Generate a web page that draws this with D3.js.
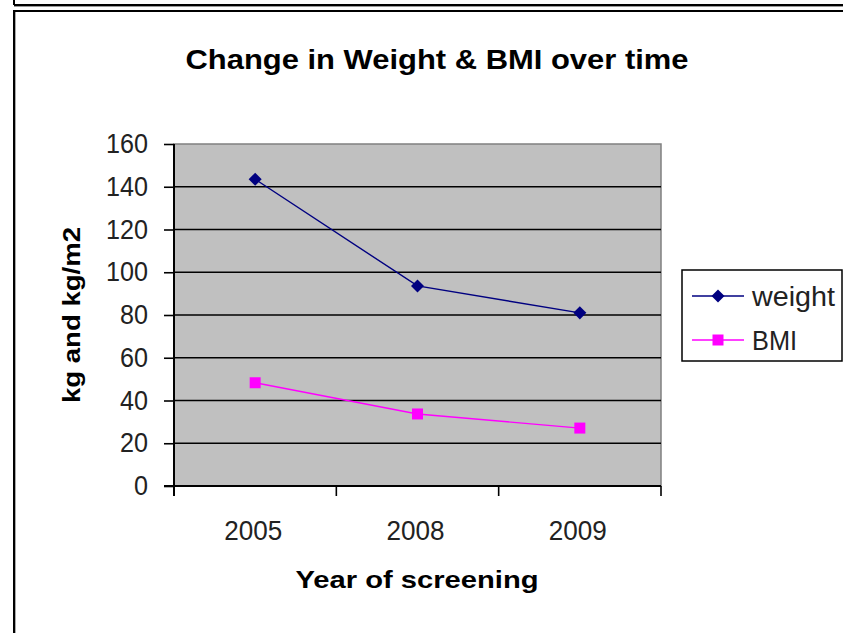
<!DOCTYPE html>
<html>
<head>
<meta charset="utf-8">
<script src="https://cdn.jsdelivr.net/npm/d3@7"></script>
<style>
  body { margin: 0; background: #fff; }
  svg { display: block; font-family: "Liberation Sans", Arial, sans-serif; }
</style>
</head>
<body>
<svg id="chart" width="843" height="633"></svg>
<script>
// chart data
const years = ["2005", "2008", "2009"];
const weight = [143.5, 93.6, 81];
const bmi = [48.3, 33.7, 27.1];
const yTicks = [0, 20, 40, 60, 80, 100, 120, 140, 160];
const seriesNames = ["weight", "BMI"];

const svg = d3.select("#chart");

// window frames (screenshot of a spreadsheet)
svg.append("line").attr("x1", 14).attr("y1", 0).attr("x2", 14).attr("y2", 5)
  .attr("stroke", "#000").attr("stroke-width", 2);
svg.append("line").attr("x1", 14).attr("y1", 5).attr("x2", 843).attr("y2", 5)
  .attr("stroke", "#000").attr("stroke-width", 2);
svg.append("line").attr("x1", 14).attr("y1", 6.5).attr("x2", 843).attr("y2", 6.5)
  .attr("stroke", "#999").attr("stroke-width", 1);
svg.append("line").attr("x1", 13).attr("y1", 11).attr("x2", 843).attr("y2", 11)
  .attr("stroke", "#000").attr("stroke-width", 2);
svg.append("line").attr("x1", 14).attr("y1", 10).attr("x2", 14).attr("y2", 633)
  .attr("stroke", "#000").attr("stroke-width", 2);
svg.append("line").attr("x1", 15.5).attr("y1", 12).attr("x2", 15.5).attr("y2", 633)
  .attr("stroke", "#aaa").attr("stroke-width", 1);

const plotLeft = 174, plotRight = 661, plotTop = 144, plotBottom = 486;

const xScale = d3.scaleBand().domain(years).range([plotLeft, plotRight]).padding(0);
const yScale = d3.scaleLinear().domain([0, 160]).range([plotBottom, plotTop]);

// plot area
svg.append("rect")
  .attr("x", plotLeft).attr("y", plotTop)
  .attr("width", plotRight - plotLeft).attr("height", plotBottom - plotTop)
  .attr("fill", "#c0c0c0")
  .attr("stroke", "#808080").attr("stroke-width", 1.5);

// gridlines
svg.append("g").selectAll("line")
  .data(yTicks.filter(d => d > 0 && d < 160))
  .join("line")
  .attr("x1", plotLeft).attr("x2", plotRight)
  .attr("y1", d => yScale(d)).attr("y2", d => yScale(d))
  .attr("stroke", "#000").attr("stroke-width", 1.6);

// y axis
const yAxis = svg.append("g")
  .attr("transform", `translate(${plotLeft},0)`)
  .call(d3.axisLeft(yScale).tickValues(yTicks).tickSize(10).tickPadding(16));
yAxis.select(".domain").attr("stroke", "#000").attr("stroke-width", 2).attr("d", `M0,${plotTop}V${plotBottom + 10}`);
yAxis.selectAll(".tick line").attr("stroke-width", 1.6);
yAxis.selectAll(".tick text")
  .attr("font-size", 27).attr("fill", "#222")
  .attr("font-family", "Liberation Sans, Arial, sans-serif")
  .attr("textLength", d => String(d).length * 14).attr("lengthAdjust", "spacingAndGlyphs");

// x axis
svg.append("line").attr("x1", plotLeft - 10).attr("x2", plotRight)
  .attr("y1", plotBottom).attr("y2", plotBottom)
  .attr("stroke", "#000").attr("stroke-width", 2);
const edges = years.map(d => xScale(d)).concat([xScale.range()[1]]);
svg.append("g").selectAll("line")
  .data(edges)
  .join("line")
  .attr("x1", d => d).attr("x2", d => d)
  .attr("y1", plotBottom).attr("y2", plotBottom + 10)
  .attr("stroke", "#000").attr("stroke-width", 1.6);
svg.append("g").selectAll("text")
  .data(years)
  .join("text")
  .attr("x", d => xScale(d) + xScale.bandwidth() / 2 - 2)
  .attr("y", 540)
  .attr("text-anchor", "middle")
  .attr("font-size", 27).attr("fill", "#222")
  .attr("textLength", 58).attr("lengthAdjust", "spacingAndGlyphs")
  .text(d => d);

// lines + markers
const line = d3.line()
  .x((d, i) => xScale(years[i]) + xScale.bandwidth() / 2)
  .y(d => yScale(d));

svg.append("path").datum(weight)
  .attr("d", line).attr("fill", "none")
  .attr("stroke", "#000080").attr("stroke-width", 1.4);
svg.append("path").datum(bmi)
  .attr("d", line).attr("fill", "none")
  .attr("stroke", "#ff00ff").attr("stroke-width", 1.4);

const diamond = d3.symbol(d3.symbolSquare, 85);
const square = d3.symbol(d3.symbolSquare, 121);

svg.append("g").selectAll("path")
  .data(weight)
  .join("path")
  .attr("d", diamond)
  .attr("transform", (d, i) => `translate(${xScale(years[i]) + xScale.bandwidth() / 2},${yScale(d)}) rotate(45)`)
  .attr("fill", "#000080");
svg.append("g").selectAll("path")
  .data(bmi)
  .join("path")
  .attr("d", square)
  .attr("transform", (d, i) => `translate(${xScale(years[i]) + xScale.bandwidth() / 2},${yScale(d)})`)
  .attr("fill", "#ff00ff");

// titles
svg.append("text")
  .attr("x", 437).attr("y", 69)
  .attr("text-anchor", "middle")
  .attr("font-size", 28).attr("font-weight", "bold")
  .attr("textLength", 503).attr("lengthAdjust", "spacingAndGlyphs")
  .text("Change in Weight & BMI over time");

svg.append("text")
  .attr("transform", `translate(80,${(plotTop + plotBottom) / 2}) rotate(-90)`)
  .attr("text-anchor", "middle")
  .attr("font-size", 24).attr("font-weight", "bold")
  .attr("textLength", 176).attr("lengthAdjust", "spacingAndGlyphs")
  .text("kg and kg/m2");

svg.append("text")
  .attr("x", 417).attr("y", 588)
  .attr("text-anchor", "middle")
  .attr("font-size", 24).attr("font-weight", "bold")
  .attr("textLength", 243).attr("lengthAdjust", "spacingAndGlyphs")
  .text("Year of screening");

// legend
const legend = svg.append("g");
legend.append("rect")
  .attr("x", 682).attr("y", 270).attr("width", 160).attr("height", 91)
  .attr("fill", "#fff").attr("stroke", "#000").attr("stroke-width", 1.5);
const legColors = ["#000080", "#ff00ff"];
const legY = [296, 340];
const legLen = [83, 45];
seriesNames.forEach((name, i) => {
  legend.append("line")
    .attr("x1", 692).attr("x2", 744).attr("y1", legY[i]).attr("y2", legY[i])
    .attr("stroke", legColors[i]).attr("stroke-width", 1.4);
  legend.append("path")
    .attr("d", i === 0 ? diamond : square)
    .attr("transform", `translate(718,${legY[i]})` + (i === 0 ? " rotate(45)" : ""))
    .attr("fill", legColors[i]);
  legend.append("text")
    .attr("x", 752).attr("y", legY[i] + 10)
    .attr("font-size", 27).attr("fill", "#222")
    .attr("textLength", legLen[i]).attr("lengthAdjust", "spacingAndGlyphs")
    .text(name);
});
</script>
</body>
</html>
